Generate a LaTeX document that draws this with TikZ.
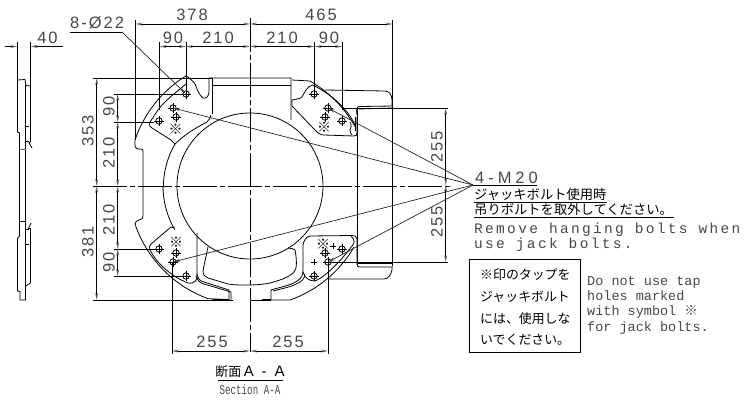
\documentclass[tikz,border=0pt]{standalone}
\usepackage{fontspec}
\usetikzlibrary{arrows.meta,calc}
\newfontfamily\dimf[LetterSpace=12]{Liberation Sans}
\newfontfamily\dimw[LetterSpace=24]{Liberation Sans}
\newfontfamily\monof[LetterSpace=16]{Liberation Mono}
\newfontfamily\notef{Liberation Mono}
\newfontfamily\narrowf[FakeStretch=0.68]{Liberation Mono}
\newfontfamily\cjk{Noto Sans CJK JP}
\definecolor{txt}{gray}{0.28}
\tikzset{
  x=1pt,y=-1pt,
  part/.style={line width=0.8pt,black},
  ext/.style={line width=0.9pt,black},
  dimen/.style={line width=0.9pt,black,{Stealth[length=7pt,width=3pt,color=black!60]}-{Stealth[length=7pt,width=3pt,color=black!60]}},
  lead/.style={line width=0.7pt,black!85,-{Stealth[length=7pt,width=3pt,color=black!70]}},
  center/.style={line width=0.9pt,black,dash pattern=on 34pt off 3pt on 5pt off 3pt},
  dimtxt/.style={font=\fontsize{16.5}{16}\dimf,text=txt,inner sep=0pt},
  jptxt/.style={font=\fontsize{12.9}{13}\cjk,text=black,inner sep=0pt,anchor=west},
  entxt/.style={font=\fontsize{14.5}{15}\monof,text=txt,inner sep=0pt,anchor=base west},
  notetxt/.style={font=\fontsize{13.5}{14}\notef,text=txt,inner sep=0pt,anchor=base west},
  holem/.style={line width=0.8pt,black},
  markx/.style={font=\fontsize{14}{14}\cjk,text=black,inner sep=0pt},
}
\begin{document}
\begin{tikzpicture}
\useasboundingbox (0,0) rectangle (750,407);
% ---------- named points
\coordinate (hTLa) at (186,94);\coordinate (hTLb) at (173,108);\coordinate (hTLc) at (176,117);\coordinate (hTLd) at (159,121);
\coordinate (hTRa) at (314,94);\coordinate (hTRb) at (328,108);\coordinate (hTRc) at (325,117);\coordinate (hTRd) at (342,121);
\coordinate (hBLa) at (186,276);\coordinate (hBLb) at (173,262);\coordinate (hBLc) at (176,253);\coordinate (hBLd) at (159,249);
\coordinate (hBRa) at (314,276);\coordinate (hBRb) at (328,262);\coordinate (hBRc) at (325,253);\coordinate (hBRd) at (342,249);
\coordinate (apex) at (473,185);
\coordinate (lead22) at (122,32);
% ---------- side view
\draw[part] (17.5,80) -- (25,79.5) -- (26,85.5) -- (30.5,86) -- (30.5,141.5) -- (29,143) -- (32,148);
\draw[part] (17.5,80) -- (17.5,132) -- (19.5,133) -- (19.5,236) -- (17.5,238.5) -- (17.5,291) -- (20,291.5) -- (20,300) -- (25.5,300) -- (25.5,85);
\draw[part] (25.5,126)--(29.3,126) (25.5,141.3)--(29.3,141.3) (25.5,229.3)--(29.3,229.3) (25.5,244.3)--(29.3,244.3);
\draw[line width=0.8pt,black!60] (19.5,149)--(25.5,149);
\draw[part] (19.5,221.3)--(25.5,221.3);
\draw[part] (31,223) -- (28.5,228.5) -- (30.5,228.5) -- (30.5,283) -- (26,286);
% ---------- plan outline
\draw[part] (135,146) -- (135,140) arc[start angle=198.7,end angle=238.5,radius=121] -- (193,81.5) .. controls (197,84) and (196,92) .. (203,98) .. controls (206,99) and (209,96) .. (209,92) -- (209,78) -- (291,78) -- (291,120);
\draw[part] (135,146) .. controls (135,148) and (137,149) .. (139,149) -- (141,149) .. controls (143,149) and (143,150) .. (143,152) -- (143,216) .. controls (143,218) and (142,220) .. (139,220) .. controls (137,220) and (135,222) .. (135,224);
\draw[part] (135,224) arc[start angle=161.2,end angle=110,radius=121] -- (229,299.5);
\draw[line width=1.4pt] (213,300)--(229,300);
\draw[part] (212,78) -- (212,114) (212,85) -- (291,85);
\draw[part] (211,115) .. controls (211,118) and (209,119) .. (207,122) .. controls (195,128) and (183,136) .. (175,144);
\draw[part] (175,144) arc[start angle=210,end angle=180,radius=87];
\draw[part] (163,186) arc[start angle=180,end angle=150,radius=87];
% main bore
\draw[part] (250,186) circle[radius=73];
% TL pad
\draw[part] (186,84) .. controls (178,91) and (165,100) .. (158,110) -- (150,122) .. controls (149,126) and (150,127) .. (152,128) -- (171,140) -- (175,144);
% BL pad
\draw[part] (175,228) -- (171,227) -- (151,244) .. controls (149,246) and (149,248) .. (150,250) .. controls (156,262) and (170,276) .. (188,283) .. controls (195,284) and (198,280) .. (197,274) -- (197,233);
% bottom pockets
\draw[part] (208,247) .. controls (206,257) and (204,265) .. (203,271) .. controls (203,275) and (205,277) .. (208,278) -- (228,284) .. controls (240,286) and (262,285) .. (270,283) .. controls (285,279) and (294,275) .. (296,268) .. controls (297,262) and (296,255) .. (295,250) .. controls (294,249) and (291,248) .. (288,248);
\draw[part] (197,274) .. controls (198,279) and (200,281) .. (204,282) -- (229,290) -- (229,300);
\draw[part] (196,276) .. controls (198,281) and (200,283) .. (204,284) -- (231,292) -- (231,300);
\draw[part] (271,300) -- (271,290) .. controls (276,288) and (290,286) .. (297,281) .. controls (302,278) and (303,275) .. (303,270) -- (303,245);
\draw[part] (250,300) -- (271,300);
\draw[line width=1.4pt] (262,300)--(271,300);
\draw[part] (273,291) .. controls (280,289) and (292,287) .. (298,283) .. controls (302,281) and (304,279) .. (305,276);
\draw[part] (271,300) -- (290,300) arc[start angle=70.5,end angle=30.5,radius=121];
% BR pad
\draw[part] (303,245) .. controls (304,240) and (306,237) .. (310,236) -- (352,235.5) .. controls (354,235.5) and (357,236) .. (357,239) -- (357,265) .. controls (357,266) and (358,267) .. (360,267) -- (393,267);
\draw[part] (303,272) .. controls (305,278) and (309,281) .. (315,281) .. controls (325,277) and (340,262) .. (352,246) .. controls (355,243) and (355,240) .. (351,236);
\draw[part] (358,263) -- (393,263);
\draw[part] (328,279) -- (384,279) .. controls (388,279) and (391,275) .. (392,270) -- (392,267);
% TR pad
\draw[part] (292,100) .. controls (296,99) and (300,99) .. (302,97) .. controls (305,92) and (307,86) .. (313,85) .. controls (322,90) and (337,98) .. (350,116) .. controls (353,121) and (355,124) .. (355,127);
\draw[part] (292,80) -- (310,81) arc[start angle=-60,end angle=-30,radius=121];
\draw[part] (292,100) -- (292,106) -- (315,130) .. controls (318,133) and (320,135) .. (324,135) -- (354,136) .. controls (356,136) and (357,135) .. (357,133) -- (357,117);
\draw[part] (350,122) .. controls (352,125) and (351,128) .. (350,130) .. controls (350,133) and (351,134) .. (352,135);
\draw[part] (355.5,117)--(355.5,131);
\draw[part] (325,90) -- (385,91) .. controls (389,91) and (392,95) .. (392,100) -- (392,106);
\draw[part] (357,115) .. controls (356,108) and (357,106.5) .. (360,106.5) -- (393,106);
\draw[part] (359,109) -- (393,108);
\draw[part] (357,108) -- (357,265);
% ---------- holes
\foreach \p in {hTLa,hTLb,hTLc,hTLd,hTRa,hTRb,hTRc,hTRd,hBLa,hBLb,hBLc,hBLd,hBRa,hBRb,hBRc,hBRd}{
  \draw[holem] (\p) circle[radius=3.2];
  \draw[holem] ($(\p)+(-5,0)$) -- ($(\p)+(5,0)$) ($(\p)+(0,-5)$) -- ($(\p)+(0,5)$);
}
\draw[holem] (311,262)--(317,262) (314,259)--(314,265) (330,246)--(336,246) (333,243)--(333,249);
\node[markx] (mTL) at (175.5,129) {※};
\node[markx] (mTR) at (324,127) {※};
\node[markx] (mBL) at (176,242) {※};
\node[markx] (mBR) at (323,244) {※};
% ---------- centre lines
\draw[center] (93,186) -- (451,186);
\draw[center] (250,18) -- (250,352);
% ---------- extension lines
\draw[ext] (135.5,20)--(135.5,140);
\draw[ext] (159.5,42)--(159.5,110);
\draw[ext] (186,42)--(186,90);
\draw[ext] (314.5,42)--(314.5,90);
\draw[ext] (342,42)--(342,110);
\draw[ext] (392.5,20)--(392.5,266);
\draw[ext] (93,78)--(212,78);
\draw[ext] (114,94)--(182,94);
\draw[ext] (114,122)--(154,122);
\draw[ext] (114,249)--(155,249);
\draw[ext] (114,276)--(183,276);
\draw[ext] (93,300)--(233,300);
\draw[ext] (342,108)--(448,108);
\draw[ext] (328,262)--(448,262);
\draw[ext] (172,262)--(172,354);
\draw[ext] (328,262)--(328,354);
\draw[ext] (17.5,42)--(17.5,80);
\draw[ext] (30.5,42)--(30.5,86);
% ---------- dimension lines
\draw[dimen] (135.5,24)--(250,24);
\draw[dimen] (250,24)--(392.5,24);
\draw[dimen] (159.5,46.5)--(186,46.5);
\draw[dimen] (186,46.5)--(250,46.5);
\draw[dimen] (250,46.5)--(314.5,46.5);
\draw[dimen] (314.5,46.5)--(342,46.5);
\draw[dimen] (96.7,78)--(96.7,186);
\draw[dimen] (96.7,186)--(96.7,300);
\draw[dimen] (117.7,94)--(117.7,122);
\draw[dimen] (117.7,122)--(117.7,186);
\draw[dimen] (117.7,186)--(117.7,249);
\draw[dimen] (117.7,249)--(117.7,276);
\draw[dimen] (172,351)--(250,351);
\draw[dimen] (250,351)--(328,351);
\draw[dimen] (445.7,108)--(445.7,185);
\draw[dimen] (445.7,185)--(445.7,262);
\draw[ext,{Stealth[length=7pt,width=3pt,color=black!60]}-] (17.5,46.5)--(5,46.5);
\draw[ext,{Stealth[length=7pt,width=3pt,color=black!60]}-] (30.5,46.5)--(63,46.5);
% ---------- leaders
\draw[lead] (apex) -- (hTLb);
\draw[lead] (apex) -- (hTRb);
\draw[lead] (apex) -- (hBLb);
\draw[lead] (apex) -- (hBRb);
\draw[lead] (lead22) -- (hTLa);
\draw[ext] (70,32)--(lead22);
\draw[ext] (apex)--(537,185);
\draw[ext] (474,202)--(607,202);
\draw[ext] (474,217)--(674,217);
% ---------- dimension text
\node[dimtxt] (t378) at (192,15) {378};
\node[dimtxt] (t465) at (321,15) {465};
\node[dimtxt] (t90a) at (173,37.5) {90};
\node[dimtxt] (t210a) at (218,37.5) {210};
\node[dimtxt] (t210b) at (282,37.5) {210};
\node[dimtxt] (t90b) at (329,37.5) {90};
\node[dimtxt] (t40) at (47.5,38) {40};
\node[dimtxt,anchor=base west] (t822) at (70,28.5) {8-Ø22};
\node[dimtxt,rotate=90] (t353) at (88,131) {353};
\node[dimtxt,rotate=90] (t381) at (88,242) {381};
\node[dimtxt,rotate=90] (t90c) at (109,106) {90};
\node[dimtxt,rotate=90] (t210c) at (109,153) {210};
\node[dimtxt,rotate=90] (t210d) at (109,220) {210};
\node[dimtxt,rotate=90] (t90d) at (109,262) {90};
\node[dimtxt,rotate=90] (t255a) at (437,147) {255};
\node[dimtxt,rotate=90] (t255b) at (437,222) {255};
\node[dimtxt] (t255c) at (212,342) {255};
\node[dimtxt] (t255d) at (288,342) {255};
% ---------- notes
\node[dimtxt,anchor=base west,font=\fontsize{16.5}{16}\dimw] (m20) at (475,183) {4-M20};
\node[jptxt,font=\fontsize{13.3}{14}\cjk] (jp1) at (474,194) {ジャッキボルト使用時};
\node[jptxt,font=\fontsize{13.3}{14}\cjk] (jp2) at (474,209.5) {吊りボルトを取外してください。};
\node[entxt] (en1) at (474,233) {Remove hanging bolts when};
\node[entxt] (en2) at (474,248) {use jack bolts.};
\draw[line width=1pt] (469,259) rectangle (580,352);
\node[jptxt] (b1) at (480,275) {※印のタップを};
\node[jptxt] (b2) at (480,297) {ジャッキボルト};
\node[jptxt] (b3) at (480,318.5) {には、使用しな};
\node[jptxt] (b4) at (480,340) {いでください。};
\node[notetxt] (n1) at (587,285) {Do not use tap};
\node[notetxt] (n2) at (587,300) {holes marked};
\node[notetxt] (n3) at (587,315) {with symbol {\cjk ※}};
\node[notetxt] (n4) at (587,331) {for jack bolts.};
\node[font=\fontsize{13}{14}\cjk,inner sep=0pt,text=black] (s1) at (250,371.5) {断面{\fontsize{15}{15}\dimw\,A - A}};
\draw[line width=1pt] (218,380.5)--(283,380.5);
\node[font=\fontsize{13.5}{13}\narrowf,text=txt,inner sep=0pt] (s2) at (250,389.5) {Section A-A};
\end{tikzpicture}
\end{document}
